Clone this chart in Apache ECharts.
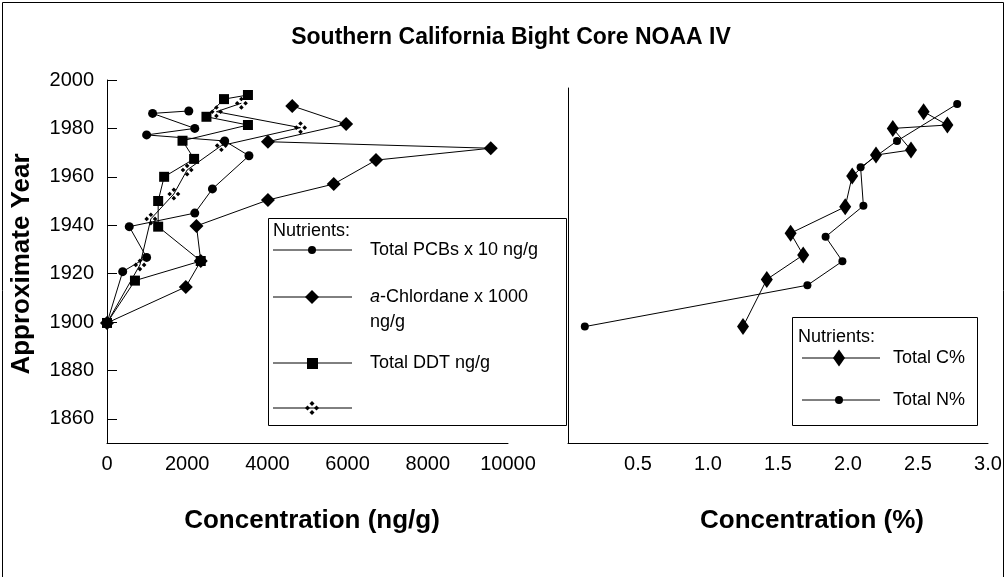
<!DOCTYPE html>
<html>
<head>
<meta charset="utf-8">
<title>Southern California Bight Core NOAA IV</title>
<script src="https://cdn.jsdelivr.net/npm/echarts@6/dist/echarts.min.js"></script>
<style>
html,body{margin:0;padding:0;background:#fff;}
#chart{width:1006px;height:577px;}
</style>
</head>
<body>
<div id="chart"></div>
<script>
// left panel - concentration (ng/g) against approximate year
var pcbConc = [2040, 1137, 2189, 988, 2935, 3540, 2629, 2189, 555, 988, 391, 0];
var pcbYear = [1987.2, 1986.2, 1980.0, 1977.3, 1974.8, 1968.7, 1955.0, 1945.0, 1939.4, 1926.7, 1920.8, 1899.6];

var chlConc = [4619, 5963, 4013, 9570, 6709, 5654, 4013, 2231, 2338, 1965, 0];
var chlYear = [1989.3, 1981.8, 1974.5, 1971.8, 1966.9, 1957.0, 1950.4, 1939.7, 1925.2, 1914.5, 1899.6];

var ddtConc = [3515, 2918, 2480, 3515, 1883, 2172, 1425, 1276, 1276, 2338, 697, 0];
var ddtYear = [1993.8, 1992.1, 1984.8, 1981.4, 1974.9, 1967.4, 1960.0, 1950.0, 1939.4, 1925.2, 1917.1, 1899.6];

var s4Conc = [3351, 2729, 4826, 2853, 1998, 1667, 1094, 821, 0];
var s4Year = [1990.4, 1986.9, 1980.3, 1972.9, 1962.8, 1952.9, 1942.6, 1923.6, 1899.6];

// right panel - percent
var cPct  = [2.54, 2.71, 2.32, 2.45, 2.20, 2.03, 1.98, 1.59, 1.68, 1.42, 1.25];
var cYear = [1986.9, 1981.4, 1980.0, 1971.1, 1969.0, 1960.3, 1947.6, 1936.7, 1927.7, 1917.6, 1898.1];

var nPct  = [2.78, 2.35, 2.09, 2.11, 1.84, 1.96, 1.71, 0.12];
var nYear = [1990.1, 1974.8, 1963.9, 1948.0, 1935.2, 1925.1, 1915.2, 1898.1];

var yearTicks = [1860, 1880, 1900, 1920, 1940, 1960, 1980, 2000];

var FONT = 'Liberation Sans, Arial, sans-serif';
var PATTERN = 'path://M7 0L9.5 2.5L7 5L4.5 2.5Z M11.5 4.5L14 7L11.5 9.5L9 7Z M7 9L9.5 11.5L7 14L4.5 11.5Z M2.5 4.5L5 7L2.5 9.5L0 7Z';

function pairs(xs, ys) {
	var out = [];
	for (var i = 0; i < xs.length; i++) {
		out.push([xs[i], ys[i]]);
	}
	return out;
}

function serie(name, idx, xs, ys, symbol, size) {
	return {
		name : name,
		type : 'line',
		xAxisIndex : idx,
		yAxisIndex : idx,
		data : pairs(xs, ys),
		symbol : symbol,
		symbolSize : size,
		showAllSymbol : true,
		lineStyle : { color : '#000', width : 1 },
		itemStyle : { color : '#000' },
		emphasis : { disabled : true }
	};
}

// small helpers for the hand drawn legend boxes
function diamond(cx, cy, w, h) {
	return { type : 'polygon', z : 101, shape : { points : [[cx, cy - h], [cx + w, cy], [cx, cy + h], [cx - w, cy]] }, style : { fill : '#000' } };
}
function legendLine(x1, x2, y) {
	return { type : 'line', z : 101, shape : { x1 : x1, y1 : y, x2 : x2, y2 : y }, style : { stroke : '#000', lineWidth : 1 } };
}
function txt(x, y, s, font, extra) {
	var st = { text : s, x : x, y : y, fill : '#000', font : font + ' ' + FONT, textVerticalAlign : 'middle' };
	for (var k in extra) st[k] = extra[k];
	return { type : 'text', z : 101, style : st };
}

var g = [];
// outer frame
g.push({ type : 'rect', z : 0, shape : { x : 2.5, y : 2.5, width : 1001, height : 600 }, style : { fill : null, stroke : '#000', lineWidth : 1 } });
g.push(txt(511, 38, 'Southern California Bight Core NOAA IV', 'bold 23px', { textAlign : 'center' }));
g.push({ type : 'text', z : 101, x : 22, y : 264, rotation : Math.PI / 2,
	style : { text : 'Approximate Year', fill : '#000', font : 'bold 26px ' + FONT, textAlign : 'center', textVerticalAlign : 'middle' } });
g.push(txt(312, 521, 'Concentration (ng/g)', 'bold 26px', { textAlign : 'center' }));
g.push(txt(812, 521, 'Concentration (%)', 'bold 26px', { textAlign : 'center' }));

// left legend
g.push({ type : 'rect', z : 100, shape : { x : 268.5, y : 218.5, width : 298, height : 207 }, style : { fill : '#fff', stroke : '#000', lineWidth : 1 } });
g.push(txt(273, 231, 'Nutrients:', '18px'));
g.push(legendLine(273, 352, 250));
g.push({ type : 'circle', z : 101, shape : { cx : 312, cy : 250, r : 4 }, style : { fill : '#000' } });
g.push(txt(370, 250, 'Total PCBs x 10 ng/g', '18px'));
g.push(legendLine(273, 352, 297));
g.push(diamond(312, 297, 7, 7));
g.push({ type : 'text', z : 101, style : { x : 370, y : 297, fill : '#000', textVerticalAlign : 'middle',
	text : '{i|a}-Chlordane x 1000', font : '18px ' + FONT,
	rich : { i : { fontStyle : 'italic', fontSize : 18, fontFamily : FONT } } } });
g.push(txt(370, 322, 'ng/g', '18px'));
g.push(legendLine(273, 352, 363));
g.push({ type : 'rect', z : 101, shape : { x : 307, y : 358, width : 11, height : 11 }, style : { fill : '#000' } });
g.push(txt(370, 363, 'Total DDT ng/g', '18px'));
g.push(legendLine(273, 352, 408));
g.push(diamond(312, 403.5, 2.5, 2.5));
g.push(diamond(316.5, 408, 2.5, 2.5));
g.push(diamond(312, 412.5, 2.5, 2.5));
g.push(diamond(307.5, 408, 2.5, 2.5));

// right legend
g.push({ type : 'rect', z : 100, shape : { x : 792.5, y : 317.5, width : 185, height : 108 }, style : { fill : '#fff', stroke : '#000', lineWidth : 1 } });
g.push(txt(798, 337, 'Nutrients:', '18px'));
g.push(legendLine(802, 880, 358));
g.push(diamond(839, 358, 6, 8.5));
g.push(txt(893, 358, 'Total C%', '18px'));
g.push(legendLine(802, 880, 400));
g.push({ type : 'circle', z : 101, shape : { cx : 839, cy : 400, r : 4 }, style : { fill : '#000' } });
g.push(txt(893, 400, 'Total N%', '18px'));

var axisLine = { show : true, lineStyle : { color : '#000', width : 1 } };
var tickLabel = { color : '#000', fontSize : 20, fontFamily : FONT };
function plain(v) { return String(v); }

var option = {
	animation : false,
	backgroundColor : '#fff',
	grid : [
		{ left : 107, top : 80, width : 401, height : 363 },
		{ left : 568, top : 88, width : 420, height : 355 }
	],
	xAxis : [
		{ gridIndex : 0, type : 'value', min : 0, max : 10000, interval : 2000,
		  axisLine : axisLine, axisTick : { show : false }, splitLine : { show : false },
		  axisLabel : Object.assign({ margin : 11, formatter : plain }, tickLabel) },
		{ gridIndex : 1, type : 'value', min : 0, max : 3, interval : 0.5,
		  axisLine : axisLine, axisTick : { show : false }, splitLine : { show : false },
		  axisLabel : Object.assign({ margin : 11, showMinLabel : false, formatter : function (v) { return v.toFixed(1); } }, tickLabel) }
	],
	yAxis : [
		{ gridIndex : 0, type : 'value', min : 1850, max : 2000,
		  axisLine : axisLine, splitLine : { show : false },
		  axisTick : { show : true, inside : true, length : 10, customValues : yearTicks, lineStyle : { color : '#000' } },
		  axisLabel : Object.assign({ margin : 13, customValues : yearTicks, formatter : plain }, tickLabel) },
		{ gridIndex : 1, type : 'value', min : 1850, max : 1996.7,
		  axisLine : axisLine, splitLine : { show : false }, axisTick : { show : false }, axisLabel : { show : false } }
	],
	series : [
		serie('Total PCBs x 10 ng/g', 0, pcbConc, pcbYear, 'circle', 9),
		serie('a-Chlordane x 1000 ng/g', 0, chlConc, chlYear, 'diamond', 14),
		serie('Total DDT ng/g', 0, ddtConc, ddtYear, 'rect', 10),
		serie('', 0, s4Conc, s4Year, PATTERN, 13),
		serie('Total C%', 1, cPct, cYear, 'diamond', [12, 17]),
		serie('Total N%', 1, nPct, nYear, 'circle', 8)
	],
	graphic : { elements : g }
};

var chart = echarts.init(document.getElementById('chart'));
chart.setOption(option);
</script>
</body>
</html>
